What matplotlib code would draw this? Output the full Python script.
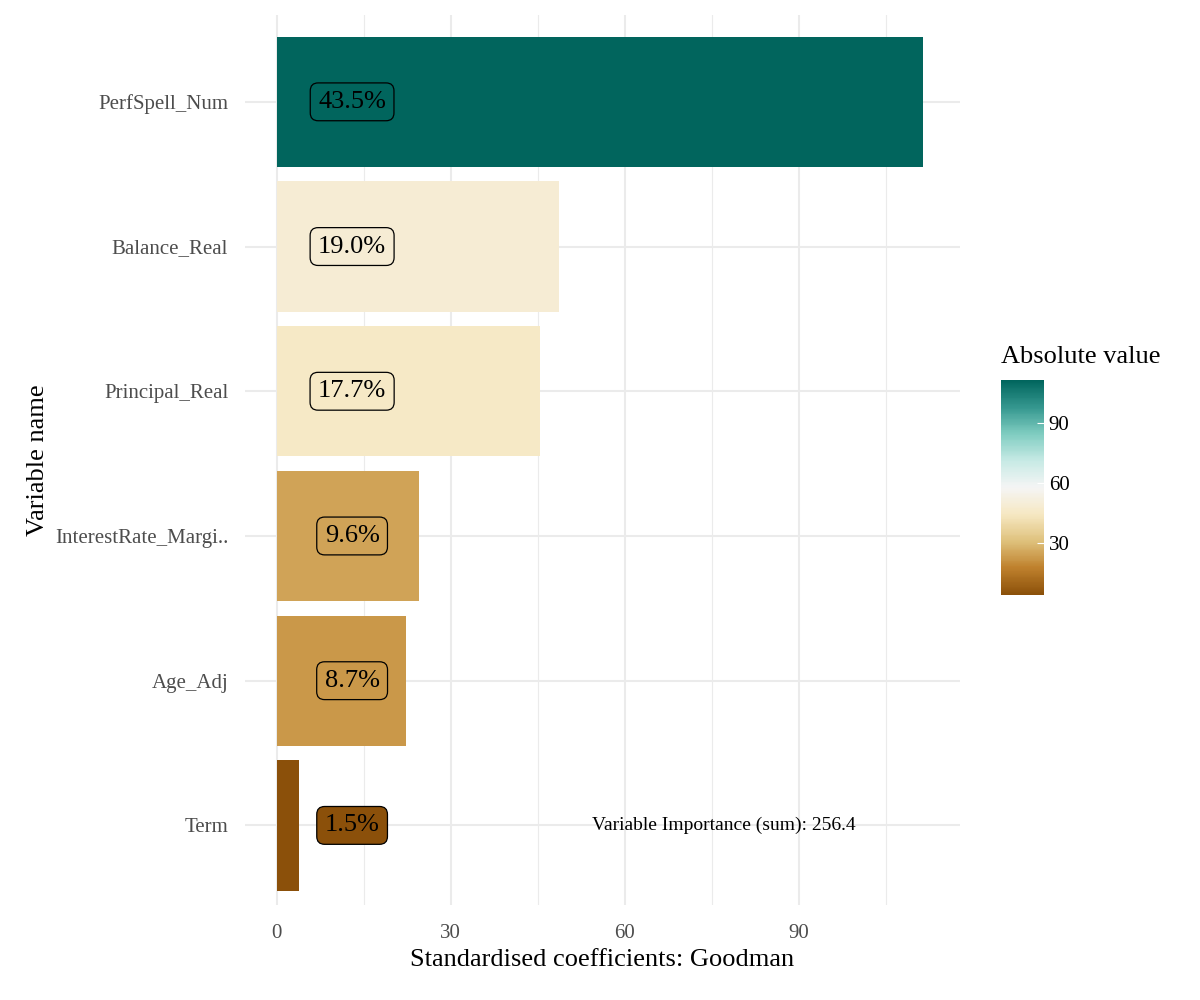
import numpy as np
import matplotlib.pyplot as plt
from matplotlib.colors import Normalize, LinearSegmentedColormap
from matplotlib.cm import ScalarMappable

plt.rcParams['font.family'] = ['Liberation Serif', 'DejaVu Serif']

variables = ['PerfSpell_Num', 'Balance_Real', 'Principal_Real', 'InterestRate_Margi..', 'Age_Adj', 'Term']
values = [111.5, 48.7, 45.4, 24.6, 22.3, 3.9]
pct_labels = ['43.5%', '19.0%', '17.7%', '9.6%', '8.7%', '1.5%']
total_label = 'Variable Importance (sum): 256.4'

base = plt.get_cmap('BrBG')
cmap = LinearSegmentedColormap.from_list('brbg_cut', [base(t) for t in np.linspace(0.1, 0.9, 64)])
norm = Normalize(vmin=min(values), vmax=max(values))

fig = plt.figure(figsize=(12, 10), dpi=100)
ax = fig.add_axes([0.204, 0.095, 0.596, 0.89])

y = np.arange(len(variables))[::-1]
colors = [cmap(norm(v)) for v in values]
ax.barh(y, values, height=0.9, color=colors, zorder=2)

for yi, lab, c in zip(y, pct_labels, colors):
    ax.text(13, yi, lab, ha='center', va='center', fontsize=19, zorder=3,
            bbox=dict(boxstyle='round,pad=0.3', fc=c, ec='black', lw=0.9))
ax.text(77, y[-1], total_label, ha='center', va='center', fontsize=14)

ax.set_yticks(y)
ax.set_yticklabels(variables, fontsize=15, color='#4d4d4d')
ax.set_xticks([0, 30, 60, 90])
ax.set_xticks([15, 45, 75, 105], minor=True)
ax.tick_params(axis='x', labelsize=15, labelcolor='#4d4d4d', length=0, which='both', pad=14)
ax.tick_params(axis='y', length=0, pad=12)
ax.set_xlim(-5.5, 117.8)
ax.set_ylim(-0.55, 5.6)
ax.grid(True, which='major', color='#ebebeb', lw=1.5, zorder=0)
ax.grid(True, which='minor', axis='x', color='#ebebeb', lw=0.8, zorder=0)
for s in ax.spines.values():
    s.set_visible(False)
ax.set_xlabel('Standardised coefficients: Goodman', fontsize=19, labelpad=4)
ax.set_ylabel('Variable name', fontsize=19, labelpad=4)

cax = fig.add_axes([0.834, 0.405, 0.036, 0.215])
cb = fig.colorbar(ScalarMappable(norm=norm, cmap=cmap), cax=cax)
cb.outline.set_visible(False)
cb.set_ticks([30, 60, 90])
cax.tick_params(labelsize=15, color='white', direction='in', length=5)
cax.set_title('Absolute value', fontsize=19, loc='left', pad=12)

fig.savefig('out.png')
